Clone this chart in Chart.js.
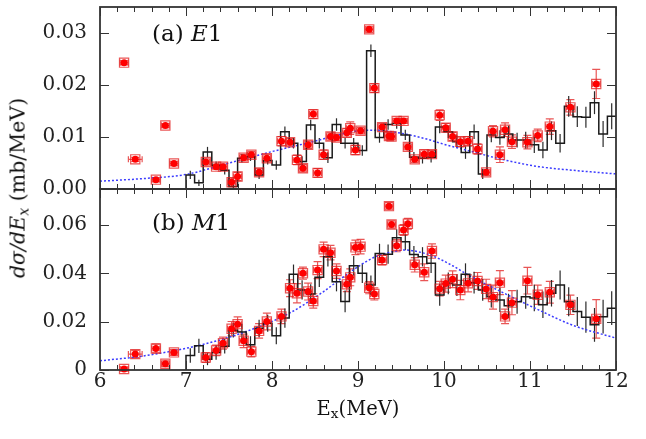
<!DOCTYPE html>
<html>
<head>
<meta charset="utf-8">
<script src="https://cdn.jsdelivr.net/npm/chart.js@4.4.1/dist/chart.umd.min.js"></script>
<style>
  body { margin: 0; background: #fff; width: 646px; height: 439px; position: relative; overflow: hidden; font-family: "DejaVu Serif", serif; color: #111; }
  .wrap { position: absolute; left: 0; }
  .lbl { position: absolute; white-space: nowrap; line-height: 1; }
  .panel { font-size: 23px; }
  #yTitle { left: 19px; top: 188px; font-size: 20.5px; transform: translate(-50%, -50%) rotate(-90deg); }
  #xTitle { left: 358px; top: 410px; font-size: 19.5px; transform: translate(-50%, -50%); }
  sub { font-size: 70%; vertical-align: -0.25em; }
</style>
</head>
<body>
<div class="wrap" style="top:0"><canvas id="e1Chart" width="646" height="195"></canvas></div>
<div class="wrap" style="top:182px"><canvas id="m1Chart" width="646" height="257"></canvas></div>
<div class="lbl panel" style="left:152px; top:22px">(a) <i>E</i>1</div>
<div class="lbl panel" style="left:152px; top:211px">(b) <i>M</i>1</div>
<div class="lbl" id="yTitle"><i>d&sigma;/dE<sub>x</sub></i> (mb/MeV)</div>
<div class="lbl" id="xTitle">E<sub>x</sub>(MeV)</div>

<script>
// measured points (same excitation energies in both panels)
const ENERGY = [6.28, 6.41, 6.65, 6.76, 6.86, 7.23, 7.35, 7.43, 7.53, 7.60,
  7.67, 7.76, 7.85, 7.94, 8.11, 8.21, 8.29, 8.36, 8.42, 8.48,
  8.53, 8.60, 8.68, 8.75, 8.87, 8.91, 8.97, 9.03, 9.13, 9.19,
  9.28, 9.36, 9.39, 9.45, 9.53, 9.58, 9.66, 9.77, 9.86, 9.95,
  10.02, 10.10, 10.19, 10.28, 10.39, 10.49, 10.57, 10.65, 10.71, 10.79,
  10.97, 11.09, 11.23, 11.47, 11.77];

const E1_DATA = [0.0243, 0.0057, 0.0018, 0.0122, 0.0049, 0.0052, 0.0043, 0.0043, 0.0013, 0.0024,
  0.0060, 0.0066, 0.0032, 0.0059, 0.0092, 0.0090, 0.0056, 0.0040, 0.0085, 0.0144,
  0.0031, 0.0066, 0.0101, 0.0099, 0.0108, 0.0117, 0.0075, 0.0112, 0.0307, 0.0194,
  0.0119, 0.0102, 0.0101, 0.0131, 0.0131, 0.0081, 0.0057, 0.0067, 0.0067, 0.0142,
  0.0118, 0.0101, 0.0091, 0.0092, 0.0077, 0.0032, 0.0111, 0.0066, 0.0114, 0.0091,
  0.0090, 0.0103, 0.0120, 0.0157, 0.0202];
const E1_ERR = [0.0004, 0.0004, 0.0004, 0.0004, 0.0004, 0.0006, 0.0005, 0.0005, 0.0008, 0.0008,
  0.0006, 0.0006, 0.0007, 0.0007, 0.0009, 0.0007, 0.0009, 0.0007, 0.0007, 0.0008,
  0.0008, 0.0009, 0.0007, 0.0006, 0.0008, 0.0012, 0.0009, 0.0006, 0.0006, 0.0008,
  0.0007, 0.0007, 0.0006, 0.0005, 0.0005, 0.0006, 0.0006, 0.0008, 0.0007, 0.0010,
  0.0008, 0.0008, 0.0010, 0.0009, 0.0010, 0.0006, 0.0011, 0.0015, 0.0013, 0.0013,
  0.0013, 0.0012, 0.0015, 0.0015, 0.0028];

const M1_DATA = [0.0004, 0.0066, 0.0089, 0.0026, 0.0073, 0.0052, 0.0081, 0.0111, 0.0171, 0.0190,
  0.0121, 0.0076, 0.0162, 0.0201, 0.0222, 0.0339, 0.0318, 0.0401, 0.0325, 0.0286,
  0.0414, 0.0500, 0.0486, 0.0410, 0.0355, 0.0384, 0.0508, 0.0511, 0.0341, 0.0315,
  0.0456, 0.0679, 0.0603, 0.0515, 0.0580, 0.0606, 0.0436, 0.0405, 0.0493, 0.0337,
  0.0358, 0.0376, 0.0331, 0.0359, 0.0369, 0.0336, 0.0302, 0.0362, 0.0222, 0.0279,
  0.0370, 0.0312, 0.0322, 0.0270, 0.0212];
const M1_ERR = [0.0008, 0.0015, 0.0018, 0.0012, 0.0012, 0.0020, 0.0022, 0.0025, 0.0030, 0.0030,
  0.0028, 0.0022, 0.0030, 0.0035, 0.0030, 0.0035, 0.0040, 0.0025, 0.0035, 0.0030,
  0.0035, 0.0030, 0.0030, 0.0030, 0.0030, 0.0035, 0.0030, 0.0030, 0.0025, 0.0025,
  0.0020, 0.0015, 0.0015, 0.0025, 0.0022, 0.0022, 0.0030, 0.0035, 0.0030, 0.0030,
  0.0035, 0.0035, 0.0040, 0.0035, 0.0035, 0.0040, 0.0050, 0.0050, 0.0030, 0.0050,
  0.0055, 0.0040, 0.0045, 0.0040, 0.0080];

const ENERGY_ERR = 0.045;
const ENERGY_ERR_WIDE = { 1: 0.08 };

// calculated histogram, 0.1 MeV bins from 7.0 to 12.0
const BIN_START = 7.0;
const BIN_WIDTH = 0.1;
const E1_HIST = [0.0027, 0.0012, 0.0071, 0.0045, 0.0036, 0.0005, 0.0059, 0.0062, 0.0027, 0.0055,
  0.0046, 0.0110, 0.0088, 0.0053, 0.0123, 0.0088, 0.0060, 0.0124, 0.0088, 0.0088,
  0.0074, 0.0266, 0.0099, 0.0124, 0.0126, 0.0104, 0.0061, 0.0059, 0.0061, 0.0119,
  0.0110, 0.0091, 0.0070, 0.0110, 0.0029, 0.0104, 0.0099, 0.0106, 0.0094, 0.0094,
  0.0085, 0.0075, 0.0112, 0.0088, 0.0159, 0.0139, 0.0138, 0.0166, 0.0106, 0.0140];
const E1_HIST_ERR = [0.0008, 0.0006, 0.0010, 0.0008, 0.0008, 0.0006, 0.0008, 0.0008, 0.0008, 0.0008,
  0.0009, 0.0010, 0.0010, 0.0010, 0.0010, 0.0010, 0.0010, 0.0012, 0.0010, 0.0010,
  0.0010, 0.0012, 0.0010, 0.0010, 0.0010, 0.0010, 0.0010, 0.0010, 0.0010, 0.0012,
  0.0012, 0.0012, 0.0012, 0.0014, 0.0010, 0.0014, 0.0014, 0.0016, 0.0014, 0.0016,
  0.0016, 0.0016, 0.0018, 0.0018, 0.0020, 0.0020, 0.0020, 0.0022, 0.0025, 0.0025];

const M1_HIST = [0.0060, 0.0100, 0.0045, 0.0072, 0.0098, 0.0165, 0.0157, 0.0105, 0.0173, 0.0194,
  0.0142, 0.0215, 0.0397, 0.0332, 0.0315, 0.0384, 0.0469, 0.0366, 0.0284, 0.0432,
  0.0401, 0.0352, 0.0483, 0.0480, 0.0548, 0.0531, 0.0479, 0.0469, 0.0442, 0.0311,
  0.0359, 0.0352, 0.0397, 0.0362, 0.0332, 0.0304, 0.0290, 0.0266, 0.0283, 0.0304,
  0.0298, 0.0270, 0.0318, 0.0352, 0.0283, 0.0242, 0.0219, 0.0187, 0.0221, 0.0256];
const M1_HIST_ERR = [0.0030, 0.0030, 0.0025, 0.0030, 0.0030, 0.0030, 0.0035, 0.0035, 0.0035, 0.0035,
  0.0035, 0.0040, 0.0040, 0.0040, 0.0040, 0.0040, 0.0040, 0.0040, 0.0045, 0.0040,
  0.0040, 0.0040, 0.0040, 0.0040, 0.0035, 0.0035, 0.0035, 0.0040, 0.0040, 0.0045,
  0.0045, 0.0045, 0.0045, 0.0045, 0.0045, 0.0045, 0.0050, 0.0050, 0.0050, 0.0050,
  0.0055, 0.0055, 0.0055, 0.0060, 0.0060, 0.0060, 0.0065, 0.0070, 0.0070, 0.0070];

// dotted fit curves
const E1_CURVE_X = [6.0, 6.5, 7.0, 7.5, 8.0, 8.5, 8.75, 9.0, 9.2, 9.4, 9.6, 9.8, 10.0, 10.3, 10.7, 11.1, 11.5, 12.0];
const E1_CURVE_Y = [0.0015, 0.0020, 0.0028, 0.0050, 0.0072, 0.0092, 0.0103, 0.0112, 0.0113, 0.0110, 0.0104, 0.0096, 0.0086, 0.0073, 0.0056, 0.0043, 0.0036, 0.0029];
const M1_CURVE_X = [6.0, 6.5, 7.0, 7.4, 7.8, 8.2, 8.6, 8.8, 9.0, 9.2, 9.4, 9.55, 9.7, 9.9, 10.1, 10.3, 10.7, 11.1, 11.5, 12.0];
const M1_CURVE_Y = [0.0038, 0.0058, 0.0090, 0.0125, 0.0173, 0.0235, 0.0325, 0.0378, 0.0428, 0.0469, 0.0490, 0.0497, 0.0490, 0.0468, 0.0432, 0.0390, 0.0318, 0.0249, 0.0185, 0.0132];

const E1_TICKS = [0, 0.01, 0.02, 0.03];
const E1_TICK_LABELS = ["0.00", "0.01", "0.02", "0.03"];
const M1_TICKS = [0, 0.02, 0.04, 0.06];
const M1_TICK_LABELS = ["0", "0.02", "0.04", "0.06"];

const RED = "#ff0000";
const RED_LIGHT = "rgba(225, 30, 30, 0.75)";
const FONT = { family: "DejaVu Serif", size: 20 };

// error bars are drawn under the markers
const errorBars = {
  id: "errorBars",
  beforeDatasetsDraw(chart) {
    const { ctx, scales: { x, y } } = chart;
    chart.data.datasets.forEach(ds => {
      if (!ds.bars) return;
      ctx.save();
      ctx.strokeStyle = ds.barColor;
      ctx.lineWidth = 1.2;
      ds.bars.forEach(b => {
        const px = x.getPixelForValue(b.x);
        const y1 = y.getPixelForValue(b.y + b.ey);
        const y2 = y.getPixelForValue(b.y - b.ey);
        ctx.beginPath();
        ctx.moveTo(px, y1); ctx.lineTo(px, y2);
        if (ds.barCaps) {
          const py = y.getPixelForValue(b.y);
          const x1 = x.getPixelForValue(b.x - b.ex);
          const x2 = x.getPixelForValue(b.x + b.ex);
          ctx.moveTo(px - 4, y1); ctx.lineTo(px + 4, y1);
          ctx.moveTo(px - 4, y2); ctx.lineTo(px + 4, y2);
          ctx.moveTo(x1, py); ctx.lineTo(x2, py);
          ctx.moveTo(x1, py - 3); ctx.lineTo(x1, py + 3);
          ctx.moveTo(x2, py - 3); ctx.lineTo(x2, py + 3);
        }
        ctx.stroke();
      });
      ctx.restore();
    });
  }
};

// box with inward ticks on every side
const frameTicks = {
  id: "frameTicks",
  afterDraw(chart, args, opts) {
    const { ctx, chartArea: a, scales: { x, y } } = chart;
    ctx.save();
    ctx.strokeStyle = "#333";
    ctx.lineWidth = 1;
    ctx.beginPath();
    for (let i = 30; i <= 60; i++) {
      const px = Math.round(x.getPixelForValue(i / 5)) + 0.5;
      const len = i % 5 === 0 ? 9 : 5;
      ctx.moveTo(px, a.top); ctx.lineTo(px, a.top + len);
      ctx.moveTo(px, a.bottom); ctx.lineTo(px, a.bottom - len);
    }
    opts.yTicks.forEach(v => {
      const py = Math.round(y.getPixelForValue(v)) + 0.5;
      ctx.moveTo(a.left, py); ctx.lineTo(a.left + 9, py);
      ctx.moveTo(a.right, py); ctx.lineTo(a.right - 9, py);
    });
    ctx.stroke();
    ctx.lineWidth = 1.8;
    ctx.strokeRect(a.left, a.top, a.right - a.left, a.bottom - a.top);
    ctx.restore();
  }
};

function noPadding(s) {
  s.paddingTop = 0;
  s.paddingBottom = 0;
  s.paddingLeft = 0;
  s.paddingRight = 0;
}

function points(values) {
  return ENERGY.map((e, i) => ({ x: e, y: values[i] }));
}

function pointBars(values, errs) {
  return ENERGY.map((e, i) => ({ x: e, y: values[i], ex: ENERGY_ERR_WIDE[i] || ENERGY_ERR, ey: errs[i] }));
}

function histSteps(values) {
  const steps = [{ x: BIN_START, y: 0 }];
  values.forEach((v, i) => steps.push({ x: BIN_START + i * BIN_WIDTH, y: v }));
  steps.push({ x: BIN_START + values.length * BIN_WIDTH, y: values[values.length - 1] });
  return steps;
}

function histBars(values, errs) {
  return values.map((v, i) => ({ x: BIN_START + (i + 0.5) * BIN_WIDTH, y: v, ex: 0, ey: errs[i] }));
}

function curve(xs, ys) {
  return xs.map((x, i) => ({ x, y: ys[i] }));
}

function buildDatasets(values, errs, hist, histErr, cx, cy) {
  return [
    { type: "scatter", data: points(values), pointStyle: "circle", pointRadius: 3.5,
      backgroundColor: RED, borderWidth: 0, clip: false },
    { type: "scatter", data: points(values), pointStyle: "rect", pointRadius: 6.5,
      backgroundColor: "transparent", borderColor: RED_LIGHT, borderWidth: 1.2, clip: false,
      bars: pointBars(values, errs), barColor: RED_LIGHT, barCaps: true },
    { type: "line", data: histSteps(hist), stepped: "before", borderColor: "#1a1a1a",
      borderWidth: 1.5, pointRadius: 0, fill: false,
      bars: histBars(hist, histErr), barColor: "#2a2a2a", barCaps: false },
    { type: "line", data: curve(cx, cy), borderColor: "#3b3bff", borderWidth: 1.5,
      borderDash: [2, 2], pointRadius: 0, cubicInterpolationMode: "monotone", fill: false }
  ];
}

function renderChart(canvasId, opts) {
  const ctx = document.getElementById(canvasId).getContext("2d");
  return new Chart(ctx, {
    data: { datasets: opts.datasets },
    options: {
      responsive: false,
      animation: false,
      devicePixelRatio: 1,
      layout: { autoPadding: false, padding: opts.padding },
      plugins: { legend: { display: false }, tooltip: { enabled: false }, frameTicks: { yTicks: opts.ticks } },
      scales: {
        x: {
          type: "linear", min: 6, max: 12, display: opts.showX,
          grid: { display: false, drawTicks: false }, border: { display: false },
          ticks: { stepSize: 1, font: FONT, color: "#222", padding: 0 },
          afterFit: s => { s.height = opts.xHeight; noPadding(s); }
        },
        y: {
          type: "linear", min: 0, max: opts.max,
          grid: { display: false, drawTicks: false }, border: { display: false },
          ticks: { font: FONT, color: "#222", padding: 13, callback: (v, i) => opts.labels[i] },
          afterBuildTicks: s => { s.ticks = opts.ticks.map(v => ({ value: v })); },
          afterFit: s => { s.width = 100; noPadding(s); }
        }
      }
    },
    plugins: [errorBars, frameTicks]
  });
}

renderChart("e1Chart", {
  datasets: buildDatasets(E1_DATA, E1_ERR, E1_HIST, E1_HIST_ERR, E1_CURVE_X, E1_CURVE_Y),
  max: 0.035, ticks: E1_TICKS, labels: E1_TICK_LABELS,
  padding: { left: 0, right: 30, top: 7, bottom: 6 }, showX: false, xHeight: 0
});

renderChart("m1Chart", {
  datasets: buildDatasets(M1_DATA, M1_ERR, M1_HIST, M1_HIST_ERR, M1_CURVE_X, M1_CURVE_Y),
  max: 0.075, ticks: M1_TICKS, labels: M1_TICK_LABELS,
  padding: { left: 0, right: 30, top: 7, bottom: 0 }, showX: true, xHeight: 69
});
</script>
</body>
</html>
